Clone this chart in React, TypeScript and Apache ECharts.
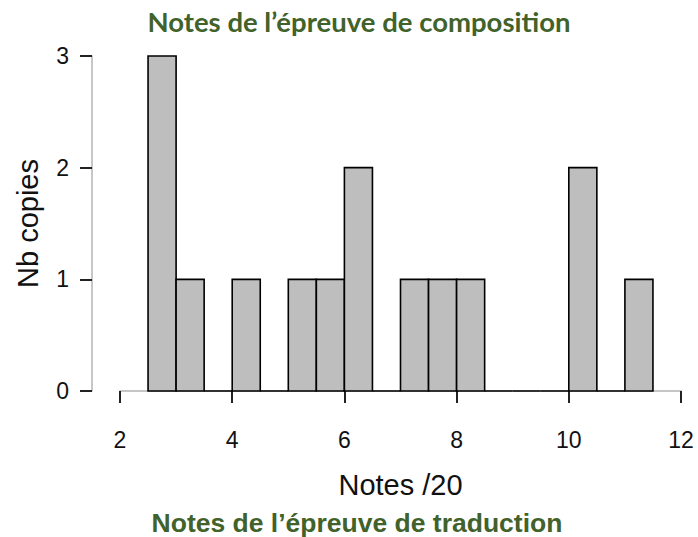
import React, { useEffect, useRef } from "react";
import * as echarts from "echarts";

const topTitle = "Notes de l’épreuve de composition";
const bottomTitle = "Notes de l’épreuve de traduction";
const xAxisName = "Notes /20";
const yAxisName = "Nb copies";
const breaks = [2.5, 3, 3.5, 4, 4.5, 5, 5.5, 6, 6.5, 7, 7.5, 8, 8.5, 9, 9.5, 10, 10.5, 11, 11.5];
const counts = [3, 1, 0, 1, 0, 1, 1, 2, 0, 1, 1, 1, 0, 0, 0, 2, 0, 1];
const xTicks = [2, 4, 6, 8, 10, 12];
const yTicks = [0, 1, 2, 3];

const GREEN = "#41622a";

export default function App() {
  const ref = useRef<HTMLDivElement>(null);
  useEffect(() => {
    if (!ref.current) return;
    const chart = echarts.init(ref.current, null, { renderer: "svg" });
    const data = counts.map((c, i) => [breaks[i], breaks[i + 1], c]);
    chart.setOption({
      animation: false,
      backgroundColor: "#ffffff",
      grid: { left: 120, right: 17, top: 56, bottom: 146 },
      xAxis: {
        type: "value",
        min: xTicks[0],
        max: xTicks[xTicks.length - 1],
        interval: 2,
        offset: 17,
        name: xAxisName,
        nameLocation: "middle",
        nameGap: 62,
        nameTextStyle: { fontFamily: "Liberation Sans", fontSize: 29, color: "#111" },
        axisLine: { show: true, lineStyle: { color: "#b4b4b4", width: 1.5 } },
        axisTick: { show: true, length: 12, lineStyle: { color: "#222", width: 2 } },
        axisLabel: { margin: 20, fontFamily: "Liberation Sans", fontSize: 23, color: "#111" },
        splitLine: { show: false },
      },
      yAxis: {
        type: "value",
        min: yTicks[0],
        max: yTicks[yTicks.length - 1],
        interval: 1,
        offset: 28,
        name: yAxisName,
        nameLocation: "middle",
        nameGap: 50,
        nameRotate: 90,
        nameTextStyle: { fontFamily: "Liberation Sans", fontSize: 29, color: "#111" },
        axisLine: { show: true, lineStyle: { color: "#b4b4b4", width: 1.5 } },
        axisTick: { show: true, length: 12, lineStyle: { color: "#222", width: 2 } },
        axisLabel: { margin: 23, fontFamily: "Liberation Sans", fontSize: 23, color: "#111" },
        splitLine: { show: false },
      },
      graphic: [
        {
          type: "text",
          x: 359,
          y: 35,
          style: {
            text: topTitle,
            fontFamily: "Lato",
            fontWeight: "bold",
            fontSize: 27.5,
            fill: GREEN,
            textAlign: "center",
            textVerticalAlign: "bottom",
          },
        },
        {
          type: "text",
          x: 357,
          y: 536,
          style: {
            text: bottomTitle,
            fontFamily: "Liberation Sans",
            fontWeight: "bold",
            fontSize: 26.5,
            fill: GREEN,
            textAlign: "center",
            textVerticalAlign: "bottom",
          },
        },
      ],
      series: [
        {
          type: "custom",
          data,
          encode: { x: [0, 1], y: 2 },
          renderItem: (params: any, api: any) => {
            const x0 = api.value(0);
            const x1 = api.value(1);
            const c = api.value(2);
            const p0 = api.coord([x0, c]);
            const p1 = api.coord([x1, 0]);
            return {
              type: "rect",
              shape: { x: p0[0], y: p0[1], width: p1[0] - p0[0], height: p1[1] - p0[1] },
              style: { fill: "#bebebe", stroke: "#000", lineWidth: 1.6 },
            };
          },
        },
      ],
    });
    return () => chart.dispose();
  }, []);
  return (
    <div
      ref={ref}
      style={{ position: "fixed", left: 0, top: 0, width: 698, height: 537 }}
    />
  );
}
